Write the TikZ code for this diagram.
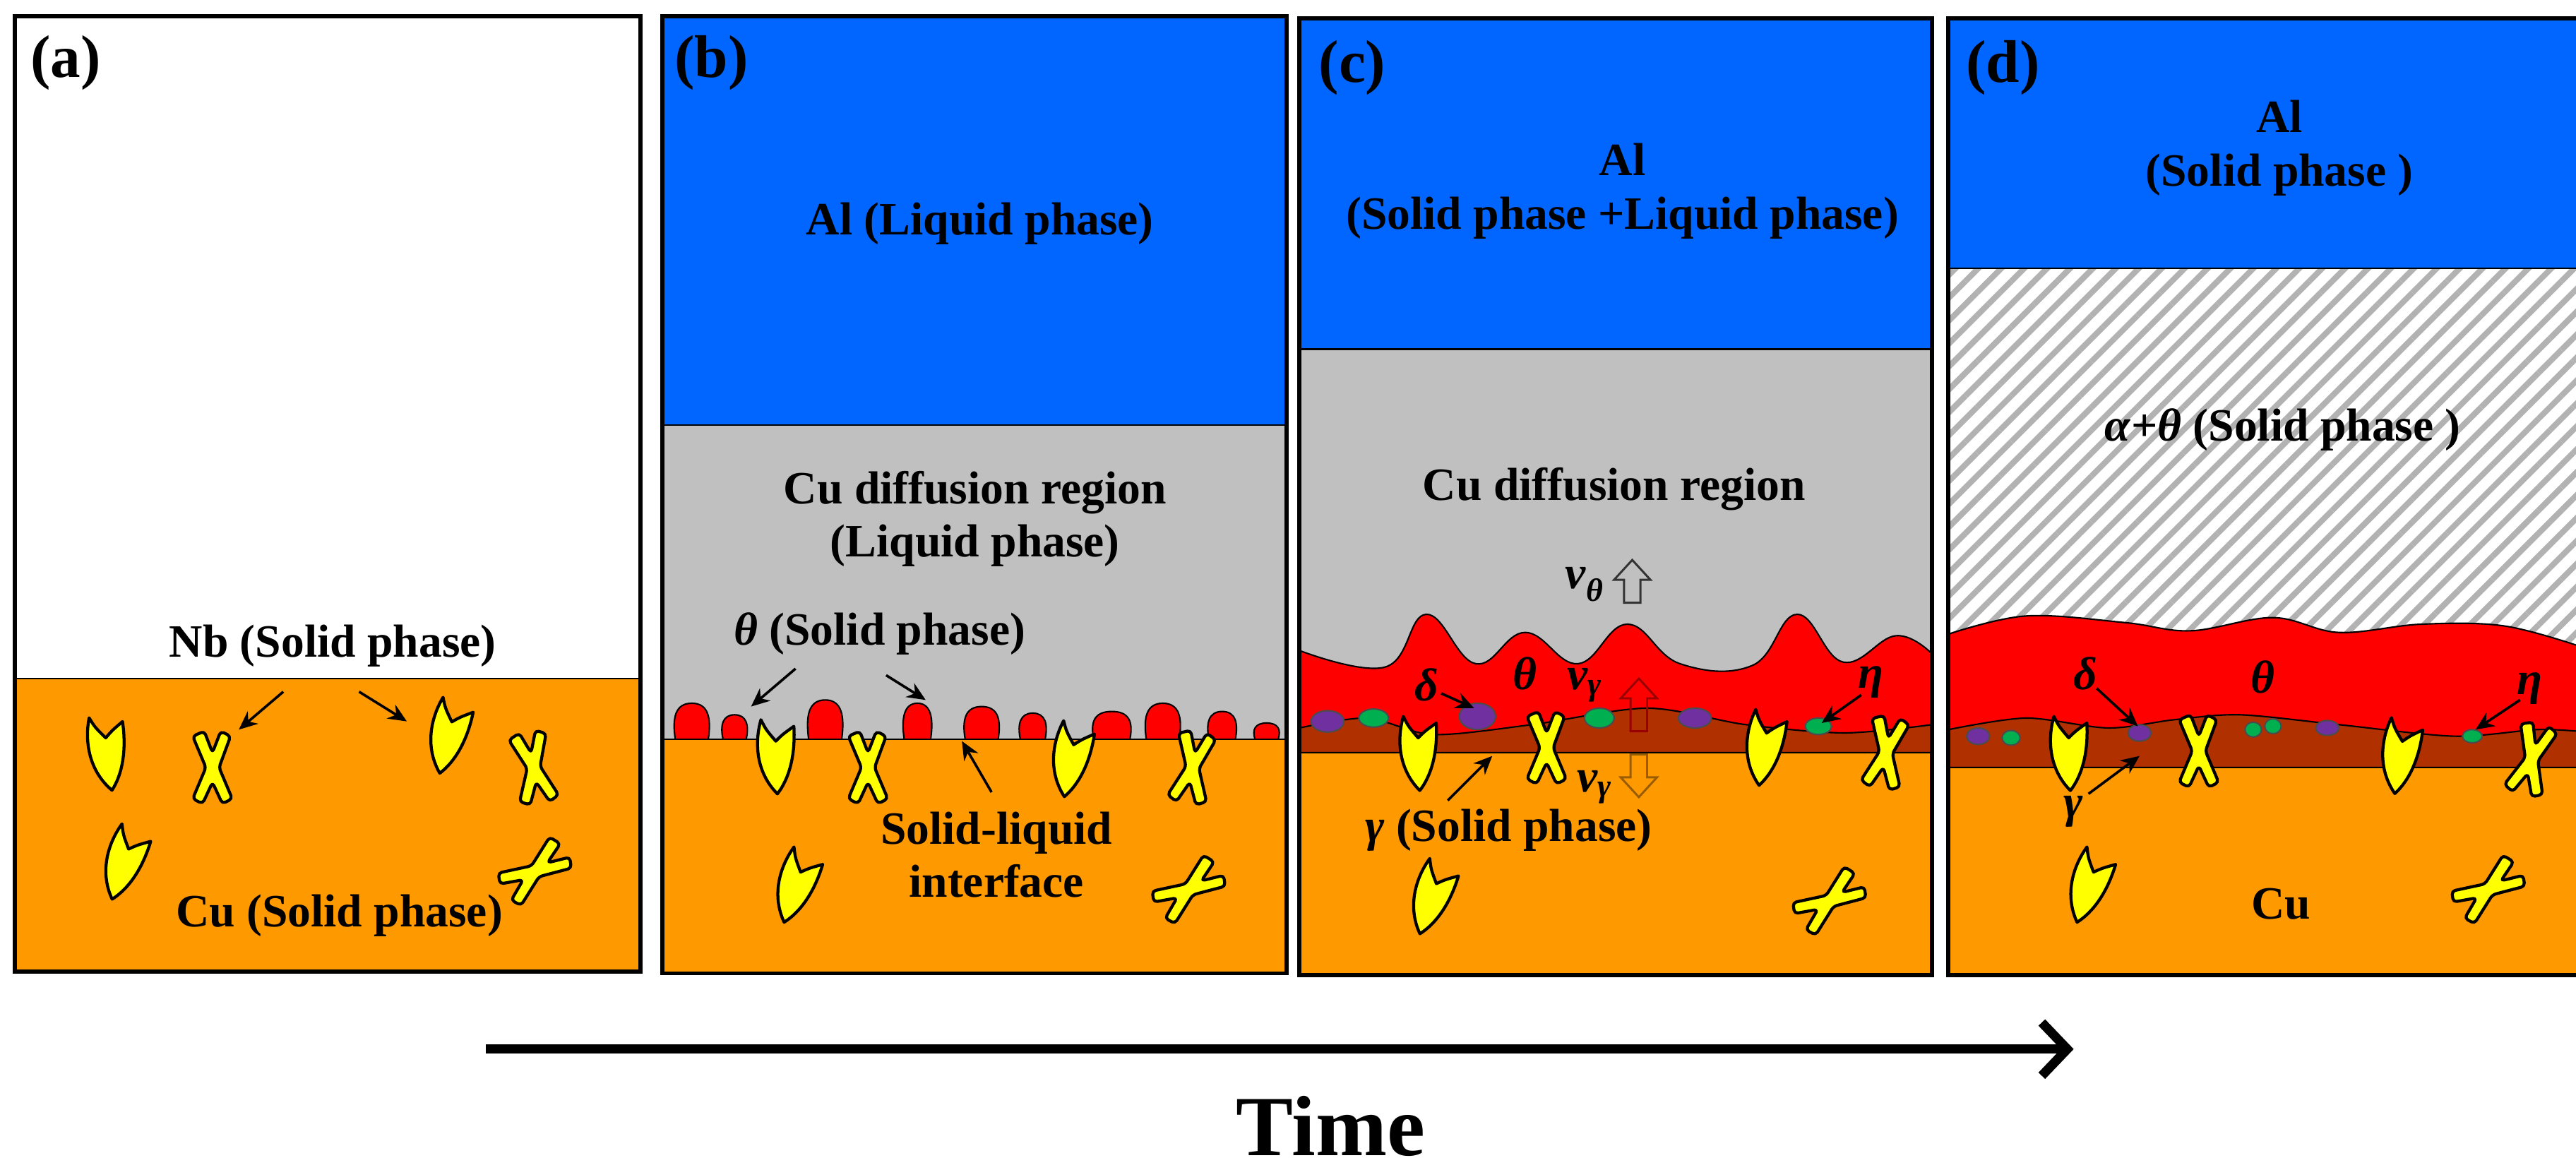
\documentclass[tikz,border=0pt]{standalone}
\usepackage{fontspec}
\setmainfont{Liberation Serif}
\usetikzlibrary{arrows.meta,patterns.meta}

\definecolor{alblue}{HTML}{0066FF}
\definecolor{liqgray}{HTML}{C0C0C0}
\definecolor{cuorange}{HTML}{FF9900}
\definecolor{thetared}{HTML}{FF0000}
\definecolor{gambrown}{HTML}{B03000}
\definecolor{nbyellow}{HTML}{FFFF00}
\definecolor{delpurple}{HTML}{7030A0}
\definecolor{etagreen}{HTML}{00B050}

\newcommand{\gk}[1]{\textit{#1}}

\tikzset{
    grain/.style={fill=nbyellow, draw=black, line width=2.6pt, line join=round},
    spike/.pic={\path[grain] (1,23) .. controls (-12,10) and (-13,-8) .. (-9,-22) .. controls (-6,-16) .. (0,-9) .. controls (4,-13) .. (11,-18) .. controls (12,0) and (8,14) .. (1,23) -- cycle;},
    cross/.pic={\path[grain, rounded corners=3pt] (-12,-19) -- (-5,-22) -- (0,-9) -- (5,-22) -- (11,-19) -- (4,0) -- (12,19) -- (6,22) -- (0,9) -- (-6,22) -- (-12,19) -- (-4,0) -- cycle;}
}

\begin{document}
\begin{tikzpicture}[
    x=0.05cm, y=-0.05cm,
    panel/.style={draw=black, line width=3.5pt},
    lbl/.style={font=\fontsize{40}{46}\selectfont\bfseries, align=center, inner sep=0pt},
    tag/.style={font=\fontsize{52}{56}\selectfont\bfseries, inner sep=0pt},
    ptr/.style={-{Stealth[length=16pt,width=14pt]}, line width=2.2pt},
    border/.style={draw=black, line width=1.3pt},
    delta/.style={fill=delpurple, draw=black!70, line width=1.3pt},
    eta/.style={fill=etagreen, draw=black!70, line width=1.3pt},
    hollow/.style={draw=#1, line width=1.8pt, fill=none}
]
    \useasboundingbox (0,0) rectangle (1564,710);

    % (a)
    \fill[white] (9,10) rectangle (389,412);
    \fill[cuorange] (9,412) rectangle (389,590);
    \draw[border] (9,412) -- (389,412);
    \pic[rotate=5] at (65,457) {spike};
    \pic[rotate=-15] at (272,447) {spike};
    \pic[rotate=-20] at (75,524) {spike};
    \pic at (129,466) {cross};
    \pic[rotate=10] at (324,466) {cross};
    \pic[rotate=-55] at (325,529) {cross};
    \draw[panel] (9,10) rectangle (389,590);
    \node[tag] (taga) at (40,38) {(a)};
    \node[lbl] (nb) at (202,392) {Nb (Solid phase)};
    \node[lbl] (cua) at (206,556) {Cu (Solid phase)};
    \coordinate (nbl) at (145,443);
    \coordinate (nbr) at (247,438);
    \draw[ptr] (172,420) -- (nbl);
    \draw[ptr] (218,420) -- (nbr);

    % (b)
    \fill[alblue] (402,10) rectangle (781,258);
    \fill[liqgray] (402,258) rectangle (781,449);
    \foreach \x/\w/\h in {420/20/22, 446/14/15, 501/20/24, 557/16/22, 596/20/20, 627/15/16, 675/22/17, 706/20/22, 742/16/17, 769/14/10}
        \draw[fill=thetared, line width=1.3pt] ({\x-\w/2},449) .. controls ({\x-\w/2-2},{449-\h*0.6}) and ({\x-\w/2},{449-\h}) .. (\x,{449-\h}) .. controls ({\x+\w/2},{449-\h}) and ({\x+\w/2+2},{449-\h*0.6}) .. ({\x+\w/2},449) -- cycle;
    \fill[cuorange] (402,449) rectangle (781,591);
    \draw[border] (402,449) -- (781,449);
    \draw[border] (402,258) -- (781,258);
    \pic at (471,459) {spike};
    \pic[rotate=-12] at (650,461) {spike};
    \pic[rotate=-20] at (483,538) {spike};
    \pic at (527,466) {cross};
    \pic[rotate=-10] at (724,466) {cross};
    \pic[rotate=-55] at (722,540) {cross};
    \draw[panel] (402,10) rectangle (781,591);
    \node[tag] (tagb) at (432,38) {(b)};
    \node[lbl] (alb) at (595,136) {Al (Liquid phase)};
    \node[lbl] (difb) at (592,315) {Cu diffusion region\\(Liquid phase)};
    \node[lbl] (thb) at (534,385) {\gk{θ} (Solid phase)};
    \node[lbl] (slb) at (605,519) {Solid-liquid\\interface};
    \coordinate (thl) at (456,429);
    \coordinate (thr) at (562,425);
    \coordinate (ifc) at (584,450);
    \draw[ptr] (483,406) -- (thl);
    \draw[ptr] (538,410) -- (thr);
    \draw[ptr] (602,481) -- (ifc);

    % (c)
    \fill[alblue] (789,11) rectangle (1173,212);
    \fill[liqgray] (789,212) rectangle (1173,457);
    \draw[border] (789,212) -- (1173,212);
    \draw[fill=thetared, line width=1.3pt] plot[smooth, tension=0.7] coordinates {(789,395) (841,405) (866,373) (896,403) (926,384) (958,403) (988,379) (1020,403) (1064,404) (1091,373) (1119,402) (1151,386) (1173,397)} -- (1173,457) -- (789,457) -- cycle;
    \draw[fill=gambrown, line width=1.3pt] plot[smooth] coordinates {(789,442) (830,436) (870,446) (930,440) (1000,430) (1060,440) (1120,445) (1173,440)} -- (1173,457) -- (789,457) -- cycle;
    \fill[cuorange] (789,457) rectangle (1173,592);
    \draw[border] (789,457) -- (1173,457);
    \draw[delta] (806,438) ellipse (10 and 6.5);
    \draw[eta] (834,436) ellipse (9 and 5.5);
    \draw[delta] (897,435) ellipse (11 and 8);
    \draw[eta] (971,436) ellipse (9 and 6);
    \draw[delta] (1029,436) ellipse (10 and 6);
    \draw[eta] (1104,441) ellipse (8 and 5);
    \pic at (861,457) {spike};
    \pic at (939,454) {cross};
    \pic[rotate=-10] at (1071,454) {spike};
    \pic[rotate=-10] at (1145,457) {cross};
    \pic[rotate=-20] at (869,545) {spike};
    \pic[rotate=-55] at (1111,547) {cross};
    \draw[panel] (789,11) rectangle (1173,592);
    \node[tag] (tagc) at (821,41) {(c)};
    \node[lbl] (alc) at (985,116) {Al\\(Solid phase +Liquid phase)};
    \node[lbl] (difc) at (980,297) {Cu diffusion region};
    \node[lbl] (vth) at (962,355) {\gk{v}\textsubscript{\gk{θ}}};
    \coordinate (vthb) at (991,366);
    \draw[hollow=black!80] (vthb) ++(-5,0) -- ++(0,-14) -- ++(-6,0) -- ++(11,-12) -- ++(11,12) -- ++(-6,0) -- ++(0,14) -- cycle;
    \node[lbl] (vgu) at (962,416) {\gk{v}\textsubscript{\gk{γ}}};
    \coordinate (vgub) at (995,444);
    \draw[hollow=red!60!black] (vgub) ++(-5,0) -- ++(0,-20) -- ++(-6,0) -- ++(11,-12) -- ++(11,12) -- ++(-6,0) -- ++(0,20) -- cycle;
    \node[lbl] (vgd) at (968,478) {\gk{v}\textsubscript{\gk{γ}}};
    \coordinate (vgdb) at (995,458);
    \draw[hollow=cuorange!60!black] (vgdb) ++(-5,0) -- ++(0,14) -- ++(-6,0) -- ++(11,12) -- ++(11,-12) -- ++(-6,0) -- ++(0,-14) -- cycle;
    \node[lbl] (dlc) at (866,416) {\gk{δ}};
    \node[lbl] (thc) at (926,409) {\gk{θ}};
    \node[lbl] (etc) at (1136,414) {\gk{η}};
    \node[lbl] (gmc) at (916,504) {\gk{γ} (Solid phase)};
    \coordinate (dlct) at (895,430);
    \coordinate (etct) at (1106,439);
    \coordinate (gmct) at (906,459);
    \draw[ptr] (875,421) -- (dlct);
    \draw[ptr] (1130,422) -- (etct);
    \draw[ptr] (879,486) -- (gmct);

    % (d)
    \fill[alblue] (1183,11) rectangle (1565,163);
    \fill[white] (1183,163) rectangle (1565,457);
    \fill[pattern={Lines[angle=45, distance=14pt, line width=5pt]}, pattern color=black!30] (1183,163) rectangle (1565,457);
    \draw[border] (1183,163) -- (1565,163);
    \draw[fill=thetared, line width=1.3pt] plot[smooth, tension=0.6] coordinates {(1183,385) (1230,374) (1290,378) (1330,383) (1380,375) (1420,384) (1470,379) (1520,380) (1565,392)} -- (1565,466) -- (1183,466) -- cycle;
    \draw[fill=gambrown, line width=1.3pt] plot[smooth] coordinates {(1183,443) (1230,436) (1280,442) (1320,437) (1360,434) (1420,440) (1490,447) (1540,443) (1565,444)} -- (1565,466) -- (1183,466) -- cycle;
    \fill[cuorange] (1183,466) rectangle (1565,592);
    \draw[border] (1183,466) -- (1565,466);
    \draw[delta] (1201,447) ellipse (7 and 5);
    \draw[eta] (1221,448) ellipse (5.5 and 4.5);
    \draw[delta] (1299,445) ellipse (7 and 5);
    \draw[eta] (1368,443) ellipse (5 and 4.5);
    \draw[eta] (1380,441) ellipse (5 and 4.5);
    \draw[delta] (1413,442) ellipse (7 and 4.5);
    \draw[eta] (1501,447) ellipse (6 and 4);
    \pic at (1256,457) {spike};
    \pic at (1335,456) {cross};
    \pic[rotate=-10] at (1457,459) {spike};
    \pic[rotate=-15] at (1537,461) {cross};
    \pic[rotate=-20] at (1268,538) {spike};
    \pic[rotate=-55] at (1511,540) {cross};
    \draw[panel] (1183,11) rectangle (1565,592);
    \node[tag] (tagd) at (1216,41) {(d)};
    \node[lbl] (ald) at (1384,90) {Al\\(Solid phase )};
    \node[lbl] (atd) at (1386,261) {\gk{α}+\gk{θ} (Solid phase )};
    \node[lbl] (thd) at (1374,411) {\gk{θ}};
    \node[lbl] (dld) at (1266,409) {\gk{δ}};
    \node[lbl] (etd) at (1536,418) {\gk{η}};
    \node[lbl] (gmd) at (1259,493) {\gk{γ}};
    \node[lbl] (cud) at (1385,549) {Cu};
    \coordinate (dldt) at (1298,441);
    \coordinate (etdt) at (1503,443);
    \coordinate (gmdt) at (1299,459);
    \draw[ptr] (1273,418) -- (dldt);
    \draw[ptr] (1530,425) -- (etdt);
    \draw[ptr] (1268,482) -- (gmdt);

    % time axis
    \coordinate (t0) at (295,637);
    \coordinate (t1) at (1259,637);
    \draw[line width=8pt, -{Straight Barb[length=22pt, width=46pt, line width=8pt]}] (t0) -- (t1);
    \node[font=\fontsize{74}{80}\selectfont\bfseries, inner sep=0pt] (time) at (808,684) {Time};
\end{tikzpicture}
\end{document}
